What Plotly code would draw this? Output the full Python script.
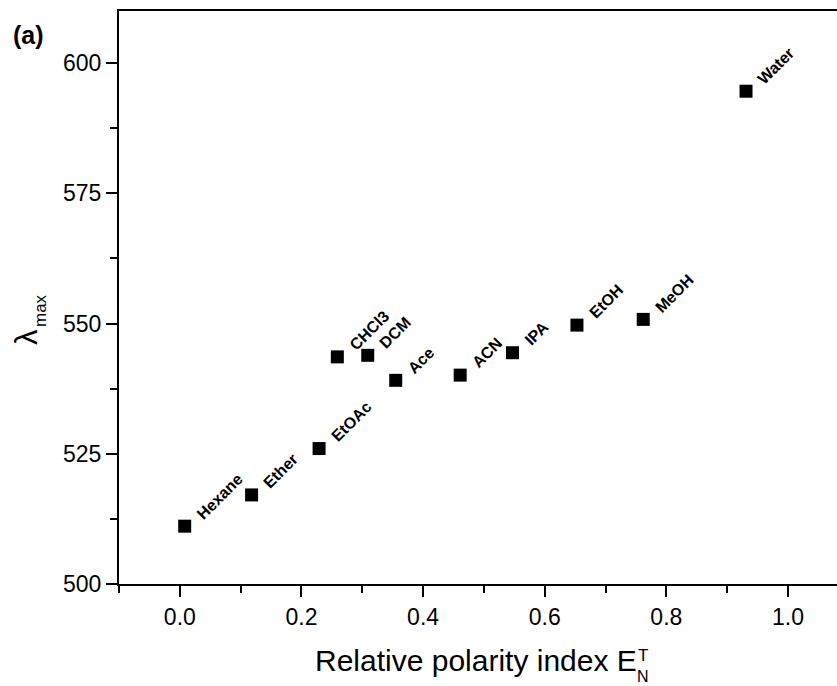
import plotly.graph_objects as go

# Solvent data: relative polarity index E_N^T vs absorption maximum (nm)
solvents = ["Hexane", "Ether", "EtOAc", "CHCl3", "DCM", "Ace",
            "ACN", "IPA", "EtOH", "MeOH", "Water"]
polarity = [0.008, 0.118, 0.229, 0.259, 0.309, 0.355,
            0.461, 0.547, 0.653, 0.762, 0.931]
lambda_max = [511.1, 517.1, 526.0, 543.6, 543.9, 539.1,
              540.1, 544.4, 549.7, 550.8, 594.6]

x_ticks = [0.0, 0.2, 0.4, 0.6, 0.8, 1.0]
y_ticks = [500, 525, 550, 575, 600]

FONT = "Liberation Sans, Arial, sans-serif"
W, H = 837, 686
ML, MR, MT, MB = 119, 0, 11, 102
PW, PH = W - ML - MR, H - MT - MB


def px_to_paper(px, py):
    return (px - ML) / PW, (H - MB - py) / PH


def paper_text(text, px, py, size, xanchor="center", yanchor="middle",
               angle=0, bold=False):
    x, y = px_to_paper(px, py)
    return dict(x=x, y=y, xref="paper", yref="paper",
                text=f"<b>{text}</b>" if bold else text,
                textangle=angle, xanchor=xanchor, yanchor=yanchor,
                showarrow=False, borderpad=0,
                font=dict(family=FONT, size=size, color="black"))


fig = go.Figure()
fig.add_trace(go.Scatter(
    x=polarity, y=lambda_max, mode="markers",
    marker=dict(symbol="square", size=13, color="black", line=dict(width=0)),
    hoverinfo="x+y+text", text=solvents, showlegend=False,
))

annotations = []
for name, xv, yv in zip(solvents, polarity, lambda_max):
    annotations.append(dict(
        x=xv, y=yv, xref="x", yref="y", text=f"<b>{name}</b>",
        textangle=-45, xanchor="left", yanchor="bottom",
        xshift=6, yshift=1, showarrow=False,
        font=dict(family=FONT, size=16, color="black"),
    ))

# panel tag
annotations.append(paper_text("(a)", 12, 34.5, 25, xanchor="left", bold=True))

# y-axis title: lambda with "max" subscript
annotations.append(paper_text("λ", 26, 337, 31, angle=-90))
annotations.append(paper_text("max", 40, 311, 17, angle=-90))

# x-axis title with stacked super/subscript
annotations.append(paper_text("Relative polarity index E", 638, 660, 30,
                              xanchor="right"))
annotations.append(paper_text("T", 643, 655, 17))
annotations.append(paper_text("N", 643, 676, 16))

axis_common = dict(
    showline=True, linewidth=2, linecolor="black",
    ticks="outside", ticklen=11, tickwidth=2, tickcolor="black",
    showgrid=False, zeroline=False,
    tickfont=dict(family=FONT, size=23, color="black"),
)

fig.update_layout(
    width=W, height=H,
    margin=dict(l=ML, r=MR, t=MT, b=MB),
    paper_bgcolor="white", plot_bgcolor="white",
    xaxis=dict(range=[-0.1, 1.0806], tickvals=x_ticks, tickformat=".1f",
               mirror=True,
               minor=dict(ticks="outside", ticklen=7, tickwidth=2,
                          tickcolor="black", dtick=0.1, tick0=0),
               **axis_common),
    yaxis=dict(range=[500, 610], tickvals=y_ticks,
               minor=dict(ticks="outside", ticklen=7, tickwidth=2,
                          tickcolor="black", dtick=12.5, tick0=500),
               **axis_common),
    annotations=annotations,
)

fig.write_html("out.html")
